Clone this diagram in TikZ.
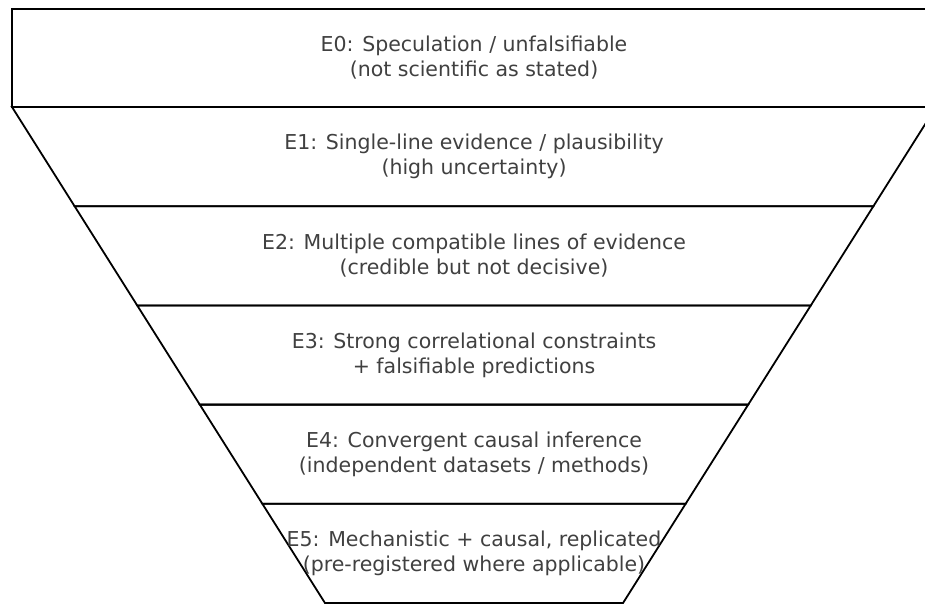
\documentclass[tikz,border=0pt]{standalone}
\usepackage{fontspec}
\setsansfont{DejaVu Sans}
\usetikzlibrary{calc}

\begin{document}
\begin{tikzpicture}[x=1pt, y=-1pt,
  tier/.style={draw=black, line width=1.8pt, line join=miter},
  caption/.style={font=\sffamily\fontsize{20.5}{25}\selectfont, text=black!75, align=center}
]
\useasboundingbox (0,0) rectangle (925,605);
\clip (0,0) rectangle (925,605);

% E0: box above the funnel
\draw[tier] (12,9) rectangle (936,107);
\node[caption] (e0) at (474,58) {E0: Speculation / unfalsifiable\\(not scientific as stated)};

% funnel tiers
\foreach \i/\txt in {1/{E1: Single-line evidence / plausibility\\(high uncertainty)},
                     2/{E2: Multiple compatible lines of evidence\\(credible but not decisive)},
                     3/{E3: Strong correlational constraints\\+ falsifiable predictions},
                     4/{E4: Convergent causal inference\\(independent datasets / methods)},
                     5/{E5: Mechanistic + causal, replicated\\(pre-registered where applicable)}} {
  \pgfmathsetmacro\ytop{107+99.2*(\i-1)}
  \pgfmathsetmacro\ybot{107+99.2*\i}
  \pgfmathsetmacro\htop{462-0.631*99.2*(\i-1)}
  \pgfmathsetmacro\hbot{462-0.631*99.2*\i}
  \draw[tier] (474-\htop,\ytop) -- (474+\htop,\ytop) -- (474+\hbot,\ybot)
    -- (474-\hbot,\ybot) -- cycle;
  \node[caption] (e\i) at (474,{(\ytop+\ybot)/2}) {\txt};
}

\end{tikzpicture}
\end{document}
